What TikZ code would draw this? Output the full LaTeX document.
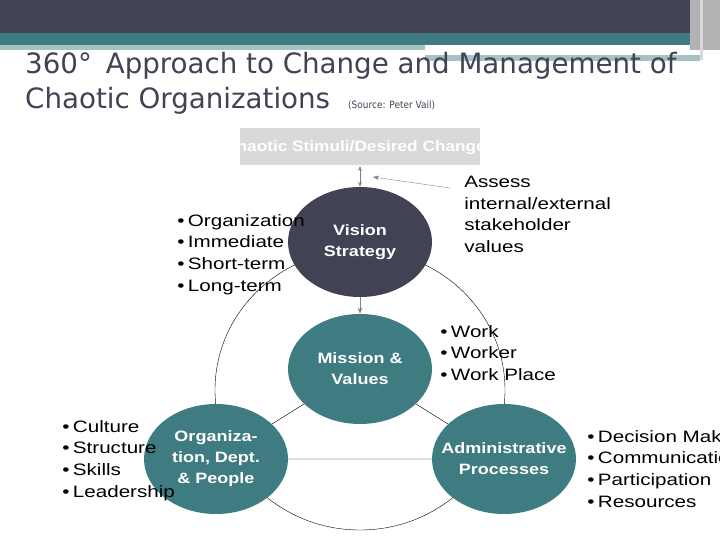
\documentclass[tikz,border=0pt]{standalone}
\usepackage{fontspec}
\usetikzlibrary{arrows.meta,shapes.geometric}
\setmainfont{Liberation Sans}
\newfontfamily\titlefont{DejaVu Sans Condensed}
\definecolor{dark}{HTML}{414355}
\definecolor{teal}{HTML}{3F7C82}
\definecolor{lteal}{HTML}{A7C2C4}
\definecolor{boxg}{HTML}{D9D9D9}
\begin{document}
\begin{tikzpicture}[x=1pt,y=-1pt,
  circ/.style={ellipse,minimum width=144pt,minimum height=110pt,inner sep=0pt},
  ctext/.style={align=center,text=white,xscale=1.2,transform shape,font=\bfseries\fontsize{15}{21}\selectfont},
  bul/.style={align=left,anchor=north west,inner sep=0pt,xscale=1.25,transform shape,font=\fontsize{16.5}{21.7}\selectfont},
  garrow/.style={draw=gray,-{Stealth[length=6pt]}}]
\useasboundingbox (0,0) rectangle (720,540);
\clip (0,0) rectangle (720,540);
% header
\fill[dark] (0,0) rectangle (690,33);
\fill[teal] (0,33) rectangle (720,45);
\fill[lteal] (0,45) rectangle (425,50);
\fill[lteal] (425,55) rectangle (700,61);
\fill[gray!60] (690,0) rectangle (720,50);
\fill[gray!30] (700,0) rectangle (703,60);
\node[anchor=west,inner sep=0pt,text=dark,xscale=1.1,transform shape,font=\titlefont\fontsize{28}{34}\selectfont] (t1) at (25,66) {360°\, Approach to Change and Management of};
\node[anchor=west,inner sep=0pt,text=dark,xscale=1.1,transform shape,font=\titlefont\fontsize{28}{34}\selectfont] (t2) at (25,101) {Chaotic Organizations};
\node[anchor=west,inner sep=0pt,text=dark,font=\titlefont\fontsize{10}{12}\selectfont] (src) at (348,105) {(Source: Peter Vail)};
% chaotic box
\begin{scope}
\clip (240,128) rectangle (480,165);
\fill[boxg] (240,128) rectangle (480,165);
\node[text=white,xscale=1.15,transform shape,font=\bfseries\fontsize{15}{18}\selectfont] (cb) at (355,148) {Chaotic Stimuli/Desired Change};
\end{scope}
\coordinate (cbb) at (360,166);
% big circle and triangle
\draw[black,thin] (360,390) ellipse (145 and 140);
\coordinate (V) at (360,242);
\coordinate (M) at (360,369);
\coordinate (O) at (216,459);
\coordinate (A) at (504,459);
\draw[black,thin] (M) -- (O) -- (A) -- (M);
\node[circ,fill=dark] (vis) at (V) {};
\node[circ,fill=teal] (mis) at (M) {};
\node[circ,fill=teal] (org) at (O) {};
\node[circ,fill=teal] (adm) at (A) {};
\node[ctext] (visl) at (V) {Vision\\Strategy};
\node[ctext] (misl) at (M) {Mission \&\\Values};
\node[ctext] (orgl) at (O) {Organiza-\\tion, Dept.\\\& People};
\node[ctext] (adml) at (A) {Administrative\\Processes};
\draw[gray,{Stealth[length=5pt]}-{Stealth[length=5pt]}] (cbb) -- (vis.north);
\draw[garrow] (vis.south) -- (mis.north);
\coordinate (ass) at (450,188);
\coordinate (asst) at (373,177);
\draw[garrow] (ass) -- (asst);
\node[bul] (b1) at (177,214) {•\,Organization\\•\,Immediate\\•\,Short-term\\•\,Long-term};
\node[bul] (b2) at (464,176) {Assess\\internal/external\\stakeholder\\values};
\node[bul] (b3) at (440,325) {•\,Work\\•\,Worker\\•\,Work Place};
\node[bul] (b4) at (62,420) {•\,Culture\\•\,Structure\\•\,Skills\\•\,Leadership};
\node[bul] (b5) at (587,430) {•\,Decision Making\\•\,Communication\\•\,Participation\\•\,Resources};
\end{tikzpicture}
\end{document}
